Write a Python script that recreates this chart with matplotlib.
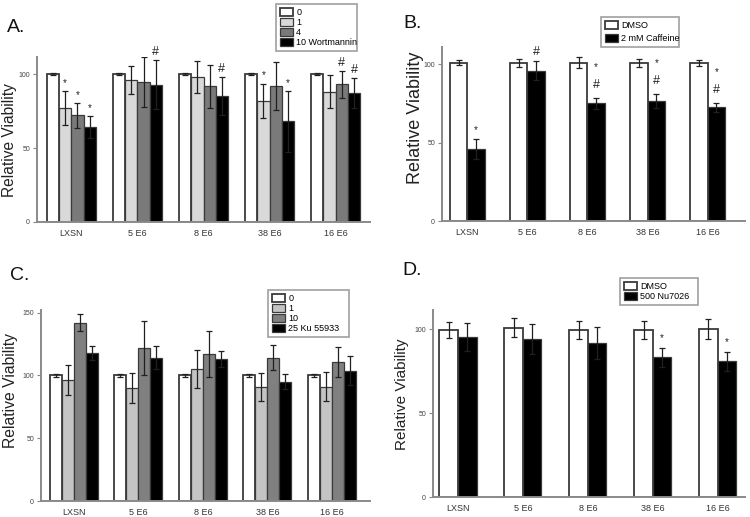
import matplotlib
matplotlib.use('Agg')
import matplotlib.pyplot as plt
import numpy as np

plt.rcParams['font.family'] = ['Liberation Sans', 'DejaVu Sans']

groups = ['LXSN', '5 E6', '8 E6', '38 E6', '16 E6']

# panel A - wortmannin
a_labels = ['0', '1', '4', '10 Wortmannin']
a_means = [[100, 100, 100, 100, 100],
           [77, 96, 98, 82, 88],
           [72, 94.5, 91.6, 92, 93],
           [64, 92.8, 85, 68, 87]]
a_errs = [[1, 1, 1, 1, 1],
          [11.5, 9.5, 11, 11.5, 11],
          [8.5, 17, 14.5, 16, 9],
          [7.5, 16.5, 13, 20.5, 10]]
# (group, series, symbol)
a_marks = [(0, 1, '*'), (0, 2, '*'), (0, 3, '*'), (1, 3, '#'), (2, 3, '#'),
           (3, 1, '*'), (3, 3, '*'), (4, 2, '#'), (4, 3, '#')]

# panel B - caffeine
b_labels = ['DMSO', '2 mM Caffeine']
b_means = [[101, 101, 101, 101, 101],
           [46, 96, 75, 76.5, 72.5]]
b_errs = [[1.5, 2.5, 3.5, 2.5, 2],
          [6.5, 6, 3.5, 4.5, 3]]
b_marks = [(0, 1, '*'), (1, 1, '#'), (2, 1, '*#'), (3, 1, '*#'), (4, 1, '*#')]

# panel C - Ku 55933
c_labels = ['0', '1', '10', '25 Ku 55933']
c_means = [[100, 100, 100, 100, 100],
           [96, 90, 105, 90.5, 91],
           [142, 122, 117, 114, 110.5],
           [117.5, 114, 113, 95, 103.5]]
c_errs = [[1, 1, 1, 1, 1],
          [12, 12, 15, 11, 11.7],
          [6.5, 21.5, 18, 10, 11.8],
          [5.5, 9, 6.2, 5.7, 11.5]]
c_marks = []

# panel D - Nu7026
d_labels = ['DMSO', '500 Nu7026']
d_means = [[99.6, 101, 99.6, 99.6, 100.2],
           [95.4, 94.3, 92, 83.4, 81]]
d_errs = [[5, 5.5, 5.5, 5.5, 6],
          [8.5, 9, 9.5, 5.7, 5.7]]
d_marks = [(3, 1, '*'), (4, 1, '*')]

W, H = 750, 517


def px_axes(fig, left, right, top, bottom):
    return fig.add_axes([left / W, 1 - bottom / H, (right - left) / W, (bottom - top) / H])


def panel(ax, means, errs, labels, colors, width, xlim, ylim, yticks, marks,
          leg_box, leg_space, ylab_size, ylab_xy):
    n = len(means)
    x = np.arange(len(groups))
    offs = (np.arange(n) - (n - 1) / 2) * width
    for i in range(n):
        lw = 1.3 if i == 0 else 0.9
        ax.bar(x + offs[i], means[i], width, color=colors[i], edgecolor='#3a3a3a',
               linewidth=lw, label=labels[i], zorder=2)
        ax.errorbar(x + offs[i], means[i], yerr=errs[i], fmt='none',
                    ecolor='#202020', elinewidth=0.9, capsize=2.5,
                    capthick=0.9, zorder=3)
    span = ylim[1] - ylim[0]
    for g, s, sym in marks:
        top = means[s][g] + errs[s][g]
        if sym == '*#':
            ax.text(x[g] + offs[s], top + 0.075 * span, '#', ha='center',
                    va='center', fontsize=9, color='#222222')
            ax.text(x[g] + offs[s], top + 0.175 * span, '*', ha='center',
                    va='center', fontsize=7, color='#222222')
        elif sym == '#':
            ax.text(x[g] + offs[s], top + 0.05 * span, '#', ha='center',
                    va='center', fontsize=9, color='#222222')
        else:
            ax.text(x[g] + offs[s], top + 0.05 * span, '*', ha='center',
                    va='center', fontsize=7, color='#222222')
    ax.set_xlim(*xlim)
    ax.set_ylim(*ylim)
    ax.set_xticks(x)
    ax.set_xticklabels(groups, fontsize=6.5, color='#333333')
    ax.set_yticks(yticks)
    ax.set_yticklabels([str(t) for t in yticks], fontsize=5, color='#444444')
    ax.tick_params(axis='x', length=0, pad=5)
    ax.tick_params(axis='y', length=3, width=0.8, color='#888888', pad=2)
    for sp in ['top', 'right']:
        ax.spines[sp].set_visible(False)
    for sp in ['left', 'bottom']:
        ax.spines[sp].set_color('#8a8a8a')
        ax.spines[sp].set_linewidth(1.4)
    fig.text(ylab_xy[0] / W, 1 - ylab_xy[1] / H, 'Relative Viability',
             fontsize=ylab_size, color='#222222', rotation=90,
             ha='center', va='center')
    l, r, t, b = leg_box
    leg = ax.legend(loc='upper left', bbox_to_anchor=(l / W, 1 - b / H, (r - l) / W, (b - t) / H),
                    bbox_transform=fig.transFigure, mode='expand', fontsize=6.5,
                    frameon=True, fancybox=False, borderpad=0.4, labelspacing=leg_space,
                    handlelength=1.5, handleheight=1.0, handletextpad=0.35,
                    borderaxespad=0)
    leg.get_frame().set_edgecolor('#888888')
    leg.get_frame().set_linewidth(1.2)


fig = plt.figure(figsize=(7.5, 5.17), dpi=100)

axA = px_axes(fig, 37, 370, 57, 222)
panel(axA, a_means, a_errs, a_labels, ['white', '#d9d9d9', '#7a7a7a', 'black'],
      0.185, (-0.52, 4.52), (0, 111.5), [0, 50, 100], a_marks,
      (276, 357, 4, 52), 0.12, 11.2, (10, 140))

axB = px_axes(fig, 442, 745, 47, 221)
panel(axB, b_means, b_errs, b_labels, ['white', 'black'],
      0.29, (-0.42, 4.62), (0, 111), [0, 50, 100], b_marks,
      (601, 679, 17, 52), 0.5, 13, (415, 118))

axC = px_axes(fig, 41, 370, 310, 501)
panel(axC, c_means, c_errs, c_labels, ['white', '#c4c4c4', '#808080', 'black'],
      0.186, (-0.51, 4.59), (0, 152), [0, 50, 100, 150], c_marks,
      (268, 349, 290, 339), 0.12, 11.3, (11, 390))

axD = px_axes(fig, 433, 745, 310, 497)
panel(axD, d_means, d_errs, d_labels, ['white', 'black'],
      0.285, (-0.385, 4.42), (0, 111.5), [0, 50, 100], d_marks,
      (620, 698, 278, 305), 0.15, 11, (402, 394))

fig.text(7 / W, 1 - 32 / H, 'A.', fontsize=14, color='#111111')
fig.text(403 / W, 1 - 28 / H, 'B.', fontsize=14, color='#111111')
fig.text(10 / W, 1 - 280 / H, 'C.', fontsize=14, color='#111111')
fig.text(402 / W, 1 - 275 / H, 'D.', fontsize=14, color='#111111')

plt.savefig('out.png', dpi=100)
